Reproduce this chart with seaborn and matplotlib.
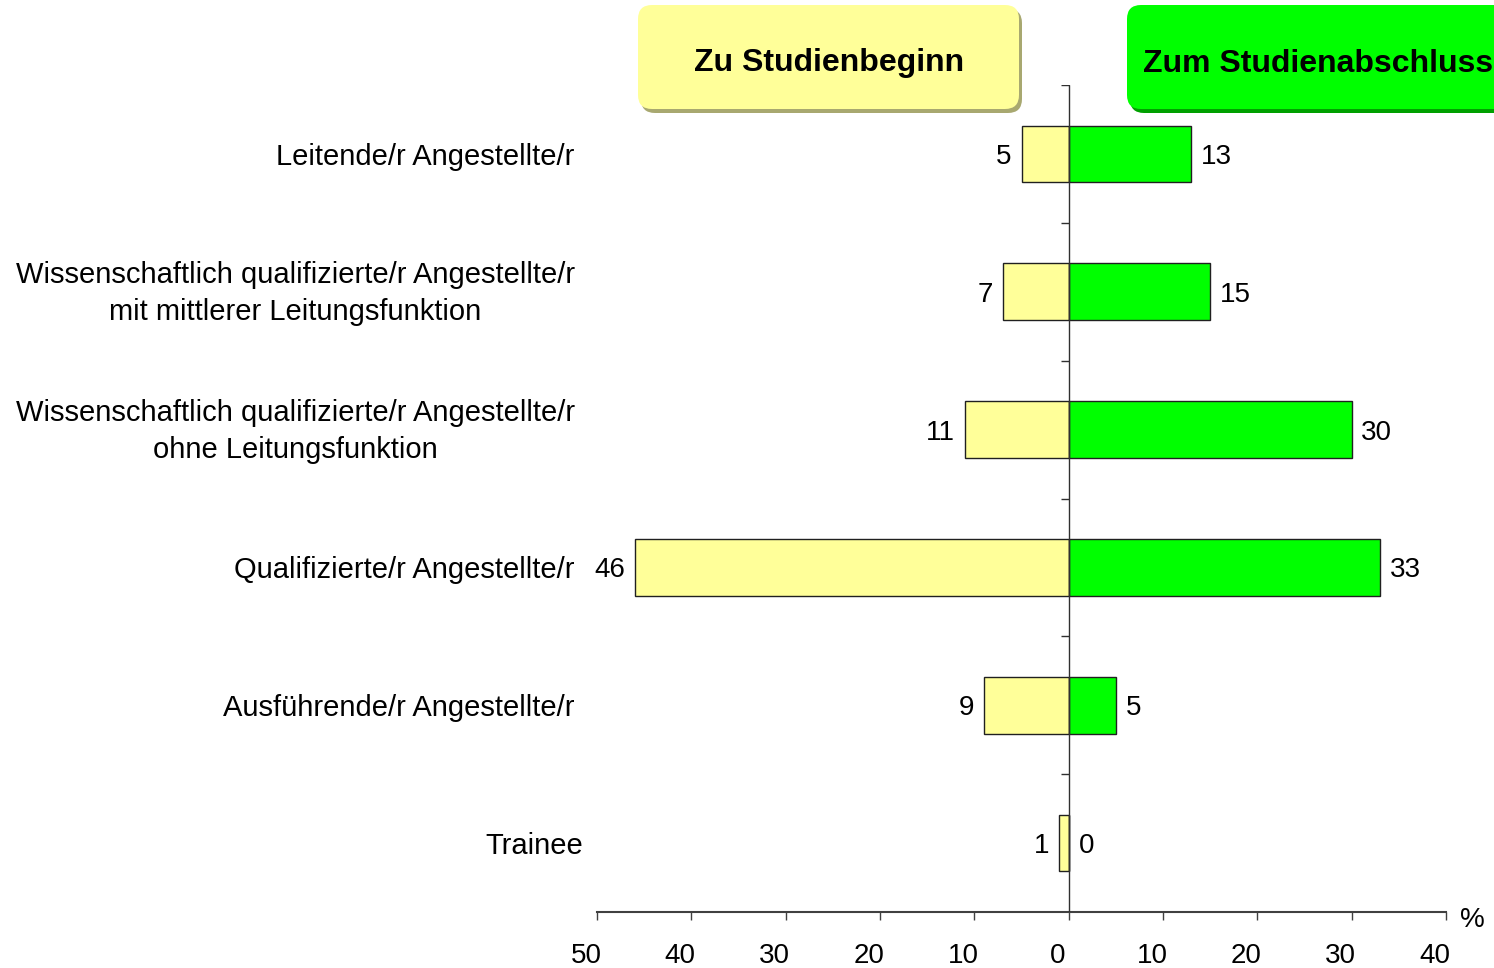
import matplotlib
matplotlib.use("Agg")
import matplotlib.pyplot as plt
import matplotlib.transforms as mtrans
import seaborn as sns
import pandas as pd
from matplotlib.patches import FancyBboxPatch

# ---- data ----
categories = [
    "Leitende/r Angestellte/r",
    "Wissenschaftlich qualifizierte/r Angestellte/r\nmit mittlerer Leitungsfunktion",
    "Wissenschaftlich qualifizierte/r Angestellte/r\nohne Leitungsfunktion",
    "Qualifizierte/r Angestellte/r",
    "Ausführende/r Angestellte/r",
    "Trainee",
]
begin_vals = [5, 7, 11, 46, 9, 1]
end_vals = [13, 15, 30, 33, 5, 0]
series_names = ["Zu Studienbeginn", "Zum Studienabschluss"]
x_ticks = [-50, -40, -30, -20, -10, 0, 10, 20, 30, 40]
x_tick_labels = ["50", "40", "30", "20", "10", "0", "10", "20", "30", "40"]

YELLOW = "#FFFF99"
GREEN = "#00FF00"

sns.set_style("white")
plt.rcParams["font.family"] = ["Liberation Sans", "DejaVu Sans"]
plt.rcParams["text.color"] = "black"
plt.rcParams["xtick.color"] = "#404040"
plt.rcParams["xtick.labelcolor"] = "black"
plt.rcParams["ytick.labelcolor"] = "black"

df = pd.DataFrame({
    "cat": categories * 2,
    "val": [-v for v in begin_vals] + list(end_vals),
    "series": [series_names[0]] * len(categories) + [series_names[1]] * len(categories),
})

W, H = 1494, 968
fig = plt.figure(figsize=(W / 100, H / 100), dpi=100)
ax = fig.add_axes([597 / W, (H - 912) / H, (1446 - 597) / W, (912 - 85) / H])

sns.barplot(data=df, y="cat", x="val", hue="series", order=categories,
            hue_order=series_names, palette=[YELLOW, GREEN], dodge=False,
            saturation=1, orient="h", width=0.41, edgecolor="#202020",
            linewidth=1.0, legend=False, ax=ax)

ax.set_xlim(-50, 40)
ax.set_ylim(len(categories) - 0.5, -0.5)
ax.set_xlabel("")
ax.set_ylabel("")

for s in ["top", "right", "left"]:
    ax.spines[s].set_visible(False)
ax.spines["bottom"].set_color("#404040")
ax.spines["bottom"].set_linewidth(1.5)

ax.set_xticks(x_ticks)
ax.set_xticklabels(x_tick_labels, fontsize=20)
ax.tick_params(axis="x", bottom=True, direction="out", length=6, width=1,
               color="#404040", pad=16)
shift = mtrans.ScaledTranslation(-11 / 100, 0, fig.dpi_scale_trans)
for lbl in ax.get_xticklabels():
    lbl.set_transform(lbl.get_transform() + shift)

ax.set_yticks(range(len(categories)))
ax.set_yticklabels(categories, fontsize=21, ha="right", multialignment="center",
                   linespacing=1.42)
ax.tick_params(axis="y", left=False, length=0, pad=16)
for lbl in ax.get_yticklabels():
    txt = lbl.get_text()
    if "\n" in txt:
        lbl.set_transform(lbl.get_transform() +
                          mtrans.ScaledTranslation(0, 6 / 100, fig.dpi_scale_trans))
    elif txt == "Trainee":
        lbl.set_transform(lbl.get_transform() +
                          mtrans.ScaledTranslation(8 / 100, 0, fig.dpi_scale_trans))

# zero line with small ticks
ax.axvline(0, color="#303030", lw=1.0, zorder=5)
ax.hlines([i - 0.5 for i in range(len(categories))], -0.85, 0, color="#303030", lw=1.0, zorder=5)

# value labels
for i, (b, e) in enumerate(zip(begin_vals, end_vals)):
    ax.annotate(str(b), xy=(-b, i), xytext=(-7, 0), textcoords="offset points",
                ha="right", va="center_baseline", fontsize=20)
    ax.annotate(str(e), xy=(e, i), xytext=(7, 0), textcoords="offset points",
                ha="left", va="center_baseline", fontsize=20)

ax.annotate("%", xy=(40, len(categories) - 0.5), xytext=(10, -6), textcoords="offset points",
            ha="left", va="center", fontsize=20, annotation_clip=False)

# header boxes in pixel coordinates
ov = fig.add_axes([0, 0, 1, 1], zorder=10)
ov.set_xlim(0, W)
ov.set_ylim(H, 0)
ov.axis("off")

def header(x0, x1, y0, y1, face, shadow, text, cx):
    sh = FancyBboxPatch((x0 + 3, y0 + 4), x1 - x0, y1 - y0,
                        boxstyle="round,pad=0,rounding_size=14",
                        fc=shadow, ec="none")
    bx = FancyBboxPatch((x0, y0), x1 - x0, y1 - y0,
                        boxstyle="round,pad=0,rounding_size=14",
                        fc=face, ec="none")
    ov.add_patch(sh)
    ov.add_patch(bx)
    ov.text(cx, 60, text, ha="center", va="center_baseline",
            fontsize=23, fontweight="bold", color="black")

header(638, 1019, 5, 109, YELLOW, "#A8A870", series_names[0], 829)
header(1127, 1530, 5, 109, GREEN, "#00A000", series_names[1], 1318)

fig.savefig("out.png", dpi=100)
